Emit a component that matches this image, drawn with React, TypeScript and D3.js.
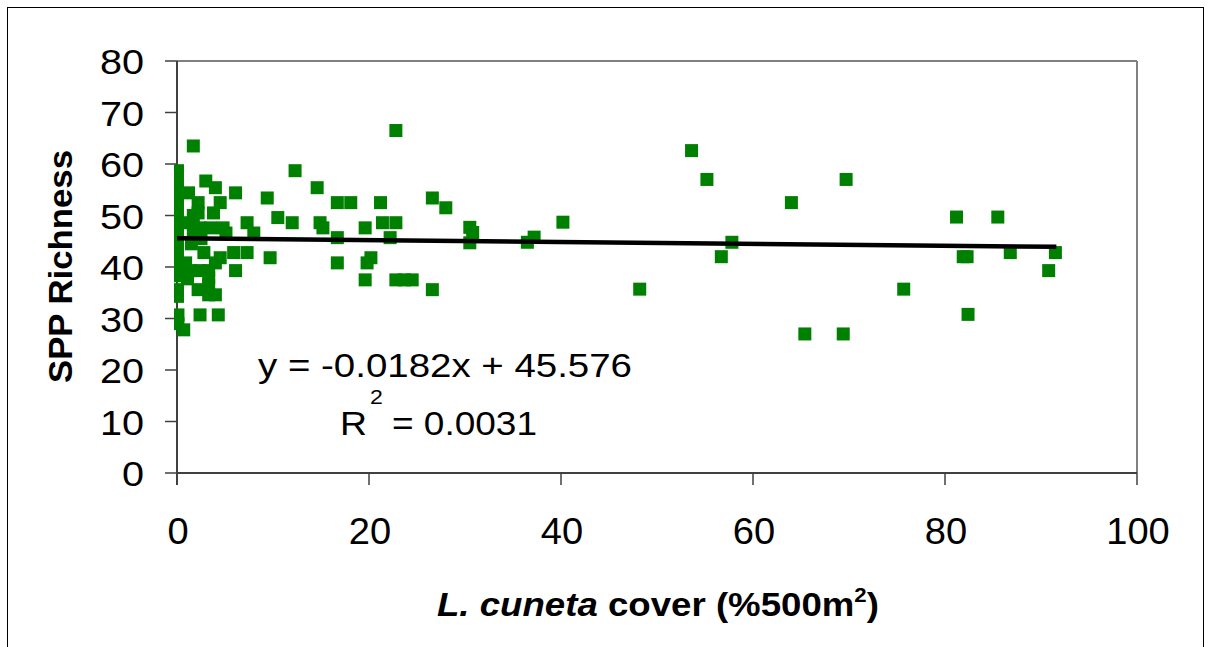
import React from "react";
import * as d3 from "d3";

// ---- data ----
const coverX: number[] = [
  // right / mid range
  53.6, 55.2, 69.7, 64.0, 81.2, 85.5, 57.8, 56.7, 81.9, 82.3, 48.2, 75.7, 82.4, 65.4, 69.4, 86.8, 91.5, 90.8,
  30.5, 30.8, 30.5, 36.5, 37.2, 40.2,
  22.8, 12.3, 14.6, 16.7, 18.1, 21.2, 26.6, 28.0, 10.5, 12.0, 14.9, 15.2, 16.7, 19.6, 21.4, 22.8, 22.2,
  16.7, 20.2, 19.8, 19.6, 22.8, 23.7, 24.5, 26.6,
  // dense cluster near zero
  1.7, 3.0, 4.0, 6.1, 9.4, 1.2, 2.2, 2.2, 4.5, 3.8, 7.3, 8.0, 3.5, 4.8, 5.1, 2.8, 5.9, 7.3, 4.5, 4.0,
  9.7, 6.1, 2.2, 3.3, 4.0, 2.4, 4.3, 0.7,
  3.3, 3.3, 3.3, 2.4, 1.4, 1.1, 0.9, 1.2, 1.7, 2.4, 2.5, 1.5, 1.7,
  // column on the axis
  0.05, 0.05, 0.05, 0.05, 0.05, 0.05, 0.05, 0.05, 0.05, 0.05, 0.05, 0.05, 0.05, 0.1, 0.1,
];
const richnessY: number[] = [
  62.6, 57.0, 57.0, 52.5, 49.7, 49.7, 44.8, 42.0, 42.0, 42.0, 35.7, 35.7, 30.8, 27.0, 27.0, 42.8, 42.8, 39.3,
  47.7, 46.7, 44.7, 44.8, 45.8, 48.7,
  66.5, 58.7, 55.4, 52.5, 52.5, 52.5, 53.4, 51.5, 49.6, 48.6, 48.6, 47.6, 45.7, 47.6, 48.6, 48.6, 45.7,
  40.8, 41.8, 40.8, 37.5, 37.5, 37.5, 37.5, 35.6,
  63.5, 56.7, 55.4, 54.4, 53.4, 54.4, 52.5, 50.5, 52.5, 50.5, 48.6, 46.6, 47.6, 47.6, 46.6, 42.8, 42.8, 42.8, 41.8, 40.8,
  41.8, 39.3, 35.6, 34.6, 34.6, 30.7, 30.7, 27.8,
  39.3, 37.9, 36.5, 39.3, 39.3, 37.7, 40.8, 48.6, 46.6, 47.6, 45.5, 44.5, 50.0,
  58.7, 56.7, 54.3, 52.3, 50.3, 48.3, 46.3, 44.3, 42.3, 40.3, 38.3, 35.6, 34.3, 30.7, 29.0,
];
const xTicks: number[] = [0, 20, 40, 60, 80, 100];
const yTicks: number[] = [0, 10, 20, 30, 40, 50, 60, 70, 80];
const slope = -0.0182;
const intercept = 45.576;
const trendRange: number[] = [0, 91.6];
const equationText = "y = -0.0182x + 45.576";
const r2Value = "= 0.0031";
const yTitle = "SPP Richness";

const FONT = "'Liberation Sans', Arial, sans-serif";

export default function App() {
  const W = 1209;
  const H = 647;
  const x = d3.scaleLinear().domain([0, 100]).range([177, 1137]);
  const y = d3.scaleLinear().domain([0, 80]).range([473, 61]);
  const points = coverX.map((cx, i) => ({ cx, cy: richnessY[i] }));
  const line = d3
    .line<number>()
    .x((d) => x(d))
    .y((d) => y(slope * d + intercept));
  const ms = 13;

  return (
    <svg
      width={W}
      height={H}
      style={{ position: "absolute", left: 0, top: 0, background: "#fff" }}
      fontFamily={FONT}
    >
      <defs>
        <clipPath id="plotclip">
          <rect x={174} y={0} width={1100} height={H} />
        </clipPath>
      </defs>
      <rect x={0} y={0} width={W} height={H} fill="#fff" />
      {/* outer chart border */}
      <rect x={7.5} y={7.5} width={1196} height={700} fill="none" stroke="#000" strokeWidth={1} />

      {/* plot area border (top & right gray) */}
      <line x1={x(0)} x2={x(100)} y1={y(80)} y2={y(80)} stroke="#808080" strokeWidth={2} />
      <line x1={x(100)} x2={x(100)} y1={y(80)} y2={y(0)} stroke="#808080" strokeWidth={2} />

      {/* axes */}
      <line x1={x(0)} x2={x(100)} y1={y(0)} y2={y(0)} stroke="#404040" strokeWidth={2} />
      <line x1={x(0)} x2={x(0)} y1={y(80)} y2={y(0) + 12} stroke="#404040" strokeWidth={2} />
      {yTicks.map((t) => (
        <g key={"yt" + t}>
          <line x1={x(0) - 12} x2={x(0)} y1={y(t)} y2={y(t)} stroke="#404040" strokeWidth={1.5} />
          <text
            x={0}
            y={0}
            transform={`translate(144,${y(t) + 13}) scale(1.1,1)`}
            textAnchor="end"
            fontSize={36}
            fill="#000"
          >
            {t}
          </text>
        </g>
      ))}
      {xTicks.map((t) => (
        <g key={"xt" + t}>
          <line x1={x(t)} x2={x(t)} y1={y(0)} y2={y(0) + 12} stroke="#404040" strokeWidth={1.5} />
          <text
            x={0}
            y={0}
            transform={`translate(${x(t) + 1},544) scale(1.03,1)`}
            textAnchor="middle"
            fontSize={37}
            fill="#000"
          >
            {t}
          </text>
        </g>
      ))}

      {/* markers */}
      <g clipPath="url(#plotclip)">
        {points.map((p, i) => (
          <rect
            key={i}
            x={x(p.cx) - ms / 2}
            y={y(p.cy) - ms / 2}
            width={ms}
            height={ms}
            fill="#008000"
          />
        ))}
      </g>

      {/* trend line */}
      <path d={line(trendRange) || ""} stroke="#000" strokeWidth={4.5} fill="none" />

      {/* equation */}
      <text x={258} y={377} fontSize={34} textLength={374} lengthAdjust="spacingAndGlyphs" fill="#000">
        {equationText}
      </text>
      <text x={0} y={0} transform="translate(340,435) scale(1.1,1)" fontSize={34} fill="#000">
        R
      </text>
      <text x={0} y={0} transform="translate(370,404) scale(1.1,1)" fontSize={21} fill="#000">
        2
      </text>
      <text x={392} y={435} fontSize={34} textLength={145} lengthAdjust="spacingAndGlyphs" fill="#000">
        {r2Value}
      </text>

      {/* y axis title */}
      <text
        transform="translate(72,266.5) rotate(-90)"
        textAnchor="middle"
        fontSize={33}
        fontWeight="bold"
        textLength={233}
        lengthAdjust="spacingAndGlyphs"
        fill="#000"
      >
        {yTitle}
      </text>

      {/* x axis title */}
      <text x={0} y={0} transform="translate(437,616) scale(1.11,1)" fontSize={33} fontWeight="bold" fill="#000">
        <tspan fontStyle="italic">L. cuneta</tspan>
        <tspan> cover (%500m</tspan>
        <tspan fontSize={20} dy={-14}>2</tspan>
        <tspan dy={14}>)</tspan>
      </text>
    </svg>
  );
}
